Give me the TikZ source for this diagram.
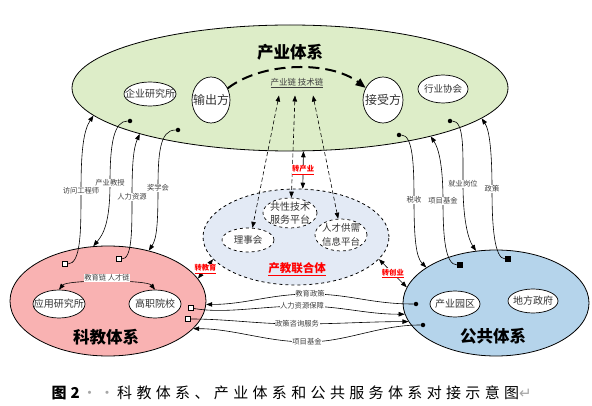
\documentclass[tikz,border=0pt]{standalone}
\usepackage{fontspec}
\setmainfont{Noto Sans CJK SC}
\newfontfamily\symf{DejaVu Sans}
\usepackage{xcolor}
\usepackage{tikz}
\usetikzlibrary{arrows.meta,shapes.geometric}

\definecolor{cyfill}{HTML}{DDEDC8}
\definecolor{kjfill}{HTML}{F9B2B2}
\definecolor{ggfill}{HTML}{B5D4EB}
\definecolor{lhfill}{HTML}{E3EAF5}

\begin{document}
\begin{tikzpicture}[x=1pt,y=-1pt,
  sys/.style={ellipse,draw,line width=0.8pt,inner sep=0pt},
  sub/.style={ellipse,draw,fill=white,line width=0.7pt,inner sep=0pt},
  stxt/.style={font=\fontsize{10}{13.5}\selectfont,text=black!80,align=center},
  ttl/.style={font=\fontsize{16.5}{18}\selectfont\bfseries},
  lab/.style={fill=white,inner sep=0.6pt,font=\fontsize{7.3}{8}\selectfont,text=black!75},
  zlab/.style={fill=white,inner sep=0.6pt,font=\fontsize{7.3}{8}\selectfont\bfseries,text=red},
  arr/.style={-{Triangle[length=6pt,width=4.5pt]},line width=0.6pt},
  dbl/.style={{Triangle[length=6pt,width=4.5pt]}-{Triangle[length=6pt,width=4.5pt]},line width=0.6pt},
  ddbl/.style={dbl,dash pattern=on 4pt off 2.5pt},
  bsq/.style={draw,fill=white,minimum size=5pt,inner sep=0pt,line width=0.6pt},
  bdot/.style={circle,fill=black,minimum size=4.5pt,inner sep=0pt}]
  \useasboundingbox (0,0) rectangle (592,406);

  % the three systems and the alliance
  \node[sys,fill=cyfill,minimum width=436pt,minimum height=126pt] (cy) at (290,88) {};
  \node[sys,fill=kjfill,minimum width=196pt,minimum height=110pt] (kj) at (108,301) {};
  \node[sys,fill=ggfill,minimum width=186pt,minimum height=106pt] (gg) at (496,303) {};
  \node[sys,dashed,fill=lhfill,minimum width=186pt,minimum height=96pt] (lh) at (296,237) {};

  \node[ttl] (cyt) at (290,52) {产业体系};
  \node[ttl] (kjt) at (106,337) {科教体系};
  \node[ttl] (ggt) at (493,336) {公共体系};
  \node[font=\fontsize{11.5}{12}\selectfont\bfseries,text=red] (lht) at (297,269) {\underline{产教联合体}};

  % members
  \node[sub,minimum width=52pt,minimum height=24pt,label={[stxt]center:企业研究所}] (qy) at (150,94) {};
  \node[sub,minimum width=38pt,minimum height=46pt,label={[stxt,font=\fontsize{12}{13}\selectfont]center:输出方}] (sc) at (211,100) {};
  \node[sub,minimum width=40pt,minimum height=46pt,label={[stxt,font=\fontsize{12}{13}\selectfont]center:接受方}] (js) at (383,100) {};
  \node[sub,minimum width=50pt,minimum height=28pt,label={[stxt,font=\fontsize{9.5}{11}\selectfont]center:行业协会}] (hy) at (443,89) {};
  \node[sub,minimum width=52pt,minimum height=28pt,label={[stxt]center:应用研究所}] (yjs) at (59,304) {};
  \node[sub,minimum width=52pt,minimum height=28pt,label={[stxt]center:高职院校}] (gzy) at (155,304) {};
  \node[sub,minimum width=50pt,minimum height=26pt,label={[stxt]center:产业园区}] (yq) at (455,304) {};
  \node[sub,minimum width=50pt,minimum height=24pt,label={[stxt]center:地方政府}] (zf) at (533,301) {};
  \node[sub,dashed,minimum width=52pt,minimum height=24pt,label={[stxt,font=\fontsize{9.5}{11}\selectfont]center:理事会}] (lsh) at (248,240) {};
  \node[sub,dashed,minimum width=54pt,minimum height=30pt,label={[stxt]center:共性技术\\服务平台}] (gx) at (290,213) {};
  \node[sub,dashed,minimum width=52pt,minimum height=32pt,label={[stxt,font=\fontsize{9.5}{13.5}\selectfont]center:人才供需\\信息平台}] (rc) at (341,235) {};

  % chains
  \node[font=\fontsize{8.5}{9}\selectfont,text=black!75] (chain) at (297,83) {\underline{产业链\ 技术链}};
  \draw[line width=2pt,dash pattern=on 11pt off 6pt,-{Triangle[length=10pt,width=8pt]}]
    (sc.35) .. controls +(35,-27) and +(-35,-27) .. (js.145);
  \draw[ddbl] ([xshift=-18pt,yshift=-4pt]chain.south) -- (lsh.70);
  \draw[ddbl] ([xshift=-2pt,yshift=-4pt]chain.south) -- (gx.85);
  \draw[ddbl] ([xshift=16pt,yshift=-4pt]chain.south) -- (rc.100);
  \draw[dbl] (yjs.north) .. controls +(8,-10) and +(-8,-10) .. (gzy.north)
    node[midway,lab,anchor=south]{教育链\ 人才链};

  % transfers
  \draw[dbl] (cy.282) -- node[zlab]{\underline{转产业}} (lh.82);
  \draw[dbl] (lh.195) -- node[zlab]{\underline{转教育}} (kj.14);
  \draw[dbl] (lh.345) -- node[zlab]{\underline{转创业}} (gg.170);

  % ends of the links
  \node[bsq] (sqa) at (65,264) {};
  \node[bsq] (sqb) at (119,259) {};
  \node[bdot] (dta) at (130,121) {};
  \node[bdot] (dtb) at (178,130) {};
  \node[bdot] (dtc) at (399,135) {};
  \node[bsq,fill=black] (sqc) at (460,265) {};
  \node[bdot] (dtd) at (450,121) {};
  \node[bsq,fill=black] (sqd) at (508,259) {};
  \node[bdot] (dte) at (416,304) {};
  \node[bsq] (sqe) at (191,308) {};
  \node[bsq] (sqf) at (188,319) {};
  \node[bdot] (dtf) at (423,325) {};

  % science/education <-> industry
  \draw[arr] (sqa) .. controls +(16,0) and +(0,40) .. ++(16,-73) node[lab]{访问工程师}
    .. controls +(0,-40) and +(-10,15) .. (cy.188);
  \draw[arr] (dta) .. controls +(-16,0) and +(0,-40) .. ++(-20,62) node[lab]{产业教授}
    .. controls +(0,40) and +(10,-12) .. (kj.105);
  \draw[arr] (sqb) .. controls +(13,0) and +(0,35) .. ++(13,-62) node[lab]{人力资源}
    .. controls +(0,-35) and +(-6,14) .. (cy.197);
  \draw[arr] (dtb) .. controls +(-18,0) and +(0,-35) .. ++(-20,58) node[lab]{奖学会}
    .. controls +(0,35) and +(8,-12) .. (kj.51);

  % industry <-> public
  \draw[arr] (dtc) .. controls +(14,0) and +(0,-35) .. ++(15,65) node[lab]{税收}
    .. controls +(0,40) and +(-10,-10) .. (gg.153);
  \draw[arr] (sqc) .. controls +(-15,0) and +(0,35) .. ++(-17,-64) node[lab]{项目基金}
    .. controls +(0,-35) and +(8,12) .. (cy.341);
  \draw[arr] (dtd) .. controls +(14,0) and +(0,-35) .. ++(13,63) node[lab]{就业岗位}
    .. controls +(0,35) and +(-8,-12) .. (gg.111);
  \draw[arr] (sqd) .. controls +(-14,0) and +(0,35) .. ++(-16,-70) node[lab]{政策}
    .. controls +(0,-35) and +(8,12) .. (cy.351);

  % science/education <-> public
  \draw[arr] (dte) .. controls +(-45,0) and +(40,0) .. ++(-106,-10) node[lab]{教育政策}
    .. controls +(-40,0) and +(40,0) .. (kj.358);
  \draw[arr] (sqe) .. controls +(35,6) and +(-40,0) .. ++(111,-2) node[lab]{人力资源保障}
    .. controls +(40,0) and +(-40,0) .. (gg.187);
  \draw[arr] (sqf) .. controls +(40,0) and +(-40,0) .. ++(109,5) node[lab]{政策咨询服务}
    .. controls +(40,0) and +(-40,0) .. (gg.192);
  \draw[arr] (dtf) .. controls +(-45,0) and +(40,0) .. ++(-116,17) node[lab]{项目基金}
    .. controls +(-40,0) and +(40,0) .. (kj.342);

  % caption
  \node[anchor=west,font=\fontsize{15}{16}\selectfont] (cap) at (48,393)
    {{\bfseries 图\hspace{4pt}2}{\color{gray!70}\,·\,·\,}{\addfontfeature{LetterSpace=29}科教体系、产业体系和公共服务体系对接示意图}{\color{gray!70}\symf ↵}};
\end{tikzpicture}
\end{document}
